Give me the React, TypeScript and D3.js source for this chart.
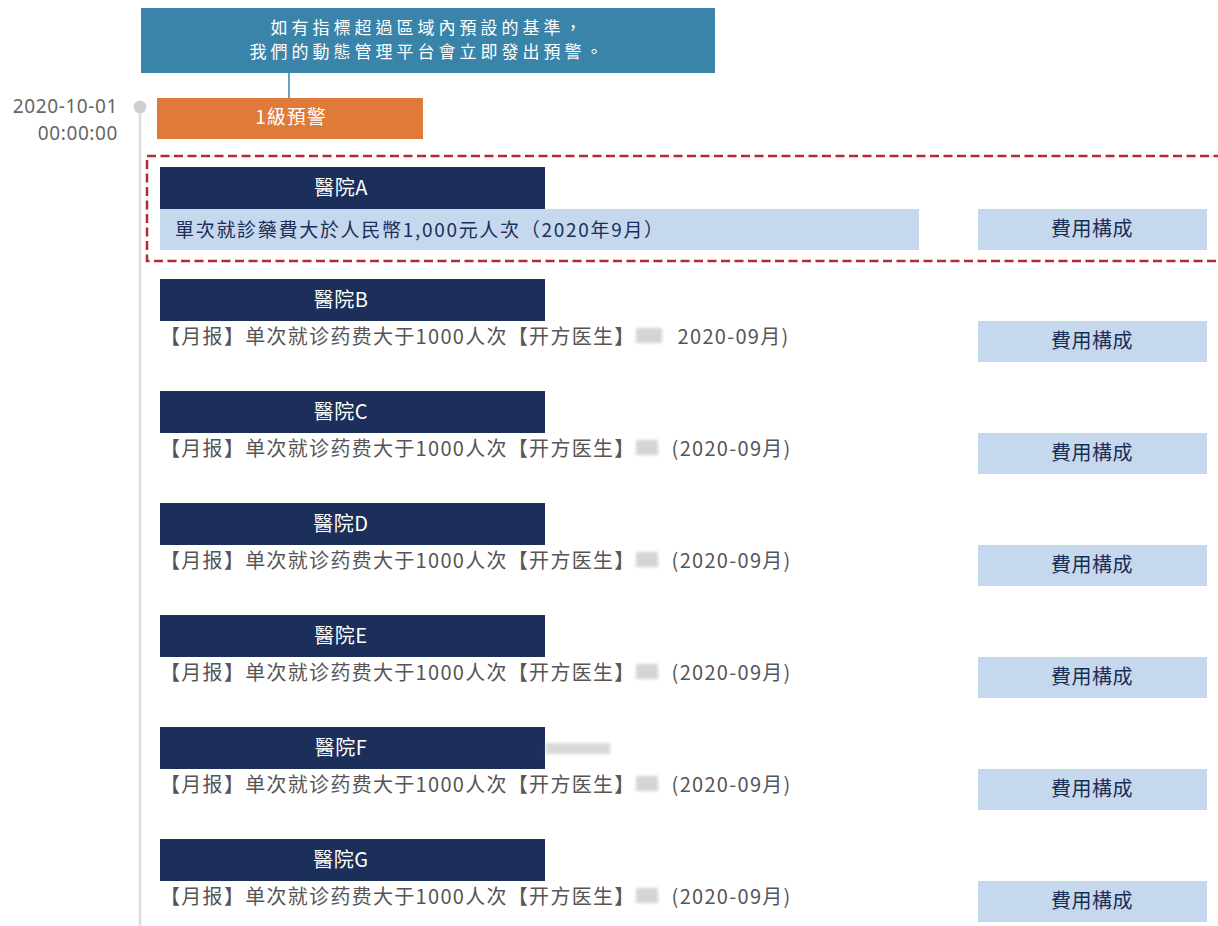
import React from 'react';
import * as d3 from 'd3';

const W = 1218;
const H = 926;

const hospitals = ['醫院A', '醫院B', '醫院C', '醫院D', '醫院E', '醫院F', '醫院G'];
const alertTexts = [
  '單次就診藥費大於人民幣1,000元人次（2020年9月）',
  '【月报】单次就诊药费大于1000人次【开方医生】',
  '【月报】单次就诊药费大于1000人次【开方医生】',
  '【月报】单次就诊药费大于1000人次【开方医生】',
  '【月报】单次就诊药费大于1000人次【开方医生】',
  '【月报】单次就诊药费大于1000人次【开方医生】',
  '【月报】单次就诊药费大于1000人次【开方医生】',
];
const periodTexts = ['', '2020-09月)', '(2020-09月)', '(2020-09月)', '(2020-09月)', '(2020-09月)', '(2020-09月)'];
const bannerLines = ['如有指標超過區域內預設的基準，', '我們的動態管理平台會立即發出預警。'];
const alertLevel = '1級預警';
const timeLabels = ['2020-10-01', '00:00:00'];
const buttonLabel = '費用構成';

const TC = '"Noto Sans CJK TC", "Noto Sans", sans-serif';
const SC = '"Noto Sans CJK SC", "Noto Sans", sans-serif';

export default function App() {
  // each hospital block is placed by a point scale down the timeline
  const y = d3.scalePoint<string>().domain(hospitals).range([167, 839]);
  const headH = 42;
  const rowH = 41;

  return (
    <svg width={W} height={H} style={{ position: 'absolute', left: 0, top: 0, background: '#fff' }}>
      <defs>
        <filter id="blur" x="-20%" y="-50%" width="140%" height="200%">
          <feGaussianBlur stdDeviation="1.8" />
        </filter>
      </defs>

      {/* timeline */}
      <line x1={140} x2={140} y1={112} y2={H} stroke="#dcdcdc" strokeWidth={2.5} />
      <circle cx={140} cy={107} r={6.5} fill="#cfcfcf" />
      {timeLabels.map((t, i) => (
        <text key={t} x={118} y={106 + i * 27} textAnchor="end" dominantBaseline="central"
          fontFamily='"Noto Sans", sans-serif' fontSize={19} letterSpacing={0.6} fill="#666">{t}</text>
      ))}

      {/* banner + alert level */}
      <rect x={141} y={8} width={574} height={65} fill="#3a84aa" />
      {bannerLines.map((t, i) => (
        <text key={t} x={428} y={26 + i * 24} textAnchor="middle" dominantBaseline="central"
          fontFamily={TC} fontSize={17} letterSpacing={4} fill="#fff">{t}</text>
      ))}
      <line x1={289} x2={289} y1={73} y2={98} stroke="#3a84aa" strokeWidth={1.5} />
      <rect x={157} y={98} width={266} height={41} fill="#e07a38" />
      <text x={291} y={115} textAnchor="middle" dominantBaseline="central"
        fontFamily={TC} fontSize={19} letterSpacing={1} fill="#fff">{alertLevel}</text>

      {/* highlighted box for hospital A */}
      <rect x={147} y={156} width={W + 20} height={105} fill="none" stroke="#b52a2e"
        strokeWidth={2.5} strokeDasharray="9 4.5" />

      {hospitals.map((h, i) => {
        const top = y(h) as number;
        const rowTop = top + headH;
        return (
          <g key={h}>
            <rect x={160} y={top} width={385} height={headH} fill="#1c2e5a" />
            <text x={341} y={top + headH / 2 - 2} textAnchor="middle" dominantBaseline="central"
              fontFamily={TC} fontSize={20} letterSpacing={0.5} fill="#fff">{h}</text>
            {i === 0 ? (
              <g>
                <rect x={160} y={rowTop} width={759} height={rowH} fill="#c5d8ed" />
                <text x={175} y={rowTop + rowH / 2 - 1.5} dominantBaseline="central"
                  fontFamily={TC} fontSize={19} letterSpacing={1.7} fill="#1c2e5a">{alertTexts[i]}</text>
              </g>
            ) : (
              <g>
                <text x={160} y={rowTop + 14} dominantBaseline="central"
                  fontFamily={SC} fontSize={20} letterSpacing={1.3} fill="#555">
                  {alertTexts[i]}
                  <tspan dx={i === 1 ? 42 : 36}>{periodTexts[i]}</tspan>
                </text>
                <rect x={636} y={rowTop + 7} width={i === 1 ? 26 : 22} height={15} fill="#aaa"
                  opacity={0.5} filter="url(#blur)" />
                {i === 5 && (
                  <rect x={546} y={top + 16} width={64} height={11} fill="#aaa"
                    opacity={0.45} filter="url(#blur)" />
                )}
              </g>
            )}
            <rect x={978} y={rowTop} width={229} height={rowH} fill="#c5d8ed" />
            <text x={1092} y={rowTop + rowH / 2 - 2} textAnchor="middle" dominantBaseline="central"
              fontFamily={TC} fontSize={20} letterSpacing={0.5} fill="#1c2e5a">{buttonLabel}</text>
          </g>
        );
      })}
    </svg>
  );
}
